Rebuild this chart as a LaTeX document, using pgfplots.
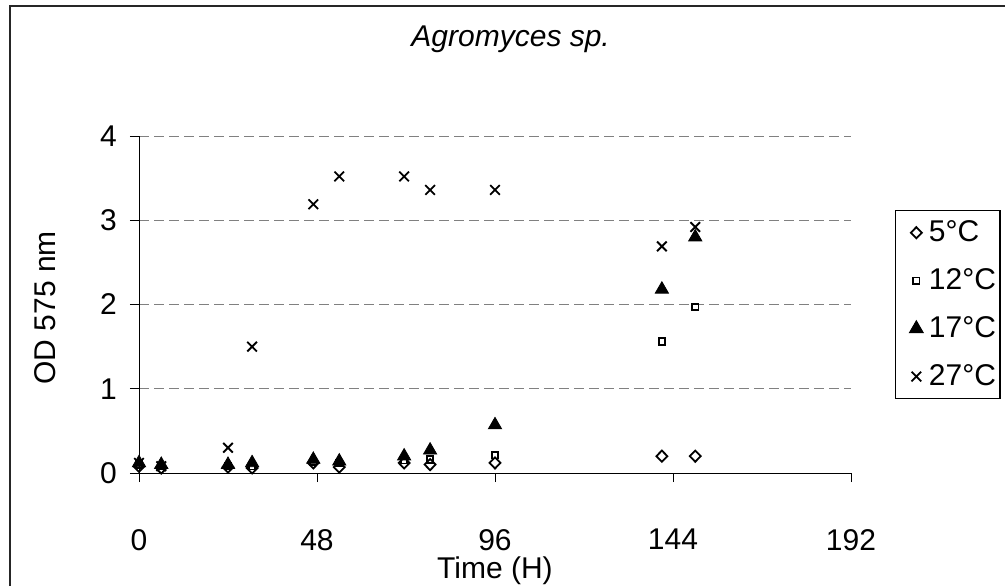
\documentclass[border=0pt]{standalone}
\usepackage{pgfplots}
\pgfplotsset{compat=1.18}
\usepackage{fontspec}
\setmainfont{Liberation Sans}

\begin{document}
\begin{tikzpicture}
\useasboundingbox (0,0) rectangle (502.5pt,293pt);
\draw[line width=0.8pt, black!85] (5pt,0pt) -- (5pt,290pt) -- (502.5pt,290pt);
\begin{axis}[
    at={(69.5pt,56.5pt)}, anchor=south west,
    scale only axis,
    width=356pt, height=168.5pt,
    xmin=0, xmax=192, ymin=0, ymax=4,
    xtick={0,48,96,144,192}, ytick={0,1,2,3,4},
    axis lines*=left,
    axis line style={line width=0.5pt},
    tick align=outside, major tick length=4.5pt,
    tick style={line width=0.5pt, black},
    ymajorgrids,
    grid style={dash pattern=on 5pt off 2.5pt, gray, line width=0.5pt},
    /pgf/number format/assume math mode=true,
    tick label style={font=\fontsize{15}{17}\selectfont},
    xticklabel style={yshift=-20pt},
    yticklabel style={xshift=-3pt},
    title={\textit{Agromyces sp.}},
    title style={at={(axis description cs:0.522,1.252)}, anchor=center, font=\fontsize{15}{17}\selectfont},
    xlabel={Time (H)},
    xlabel style={at={(axis description cs:0.5,-0.29)}, anchor=center, font=\fontsize{15}{17}\selectfont},
    ylabel={OD 575 nm},
    ylabel style={at={(axis description cs:-0.132,0.49)}, anchor=center, font=\fontsize{15}{17}\selectfont},
    legend style={at={(axis description cs:1.062,0.78)}, anchor=north west,
        draw=black, line width=0.6pt, font=\fontsize{15}{17}\selectfont,
        row sep=8pt, inner xsep=0pt, inner ysep=3pt},
    legend cell align=left,
    legend image code/.code={\path (0pt,0pt) (14pt,0pt); \draw[#1] plot coordinates {(10pt,0pt)};},
]
% 5 C
\addplot[only marks, mark=diamond, mark size=2.8pt,
    mark options={xscale=1.3, line width=0.9pt, fill=white, draw=black}]
    coordinates {
    (0,0.08)(6,0.06)(24,0.07)(30.5,0.06)(47,0.12)(54,0.07)
    (71.5,0.12)(78.5,0.10)(96,0.12)(141,0.20)(150,0.20)
    };
% 12 C
\addplot[only marks, mark=square, mark size=1.6pt,
    mark options={line width=0.9pt, fill=white, draw=black}]
    coordinates {
    (0,0.10)(6,0.08)(24,0.08)(30.5,0.08)(47,0.13)(54,0.12)
    (71.5,0.15)(78.5,0.16)(96,0.21)(141,1.56)(150,1.97)
    };
% 17 C
\addplot[only marks, mark=triangle*, mark size=3.8pt,
    mark options={fill=black, draw=black}]
    coordinates {
    (0,0.12)(6,0.10)(24,0.10)(30.5,0.12)(47,0.16)(54,0.14)
    (71.5,0.20)(78.5,0.27)(96,0.57)(141,2.18)(150,2.80)
    };
% 27 C
\addplot[only marks, mark=x, mark size=3.4pt,
    mark options={line width=0.9pt, draw=black}]
    coordinates {
    (0,0.12)(6,0.08)(24,0.30)(30.5,1.50)(47,3.19)(54,3.52)
    (71.5,3.52)(78.5,3.36)(96,3.36)(141,2.69)(150,2.92)
    };
\legend{5°C,12°C,17°C,27°C}
\end{axis}
\end{tikzpicture}
\end{document}
